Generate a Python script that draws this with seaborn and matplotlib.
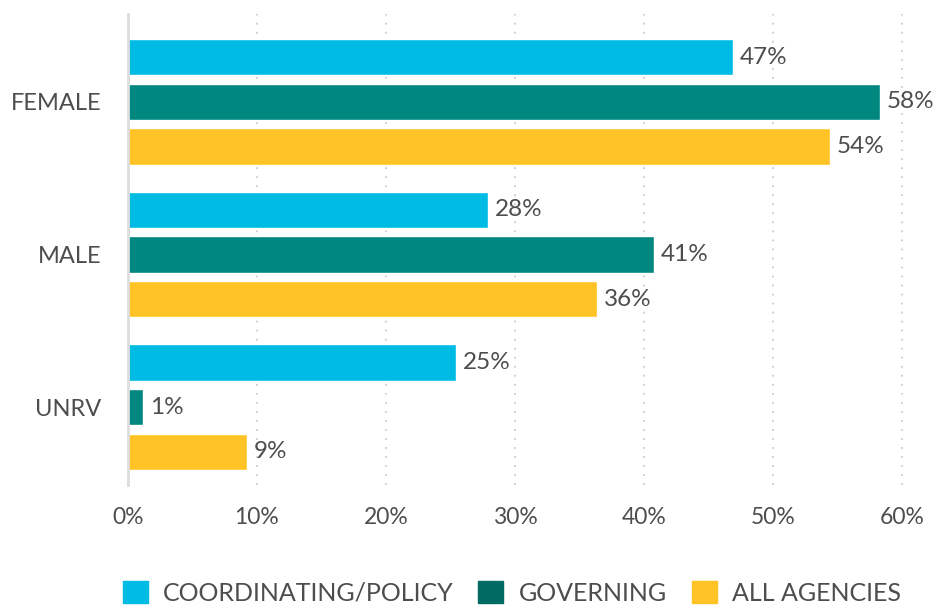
import matplotlib.pyplot as plt
import matplotlib.patches as mpatches
import seaborn as sns
import pandas as pd

# --- data ---
groups = ["FEMALE", "MALE", "UNRV"]
series = ["COORDINATING/POLICY", "GOVERNING", "ALL AGENCIES"]
coordinating = [46.9, 27.9, 25.4]
governing = [58.3, 40.8, 1.2]
all_agencies = [54.4, 36.4, 9.2]
x_ticks = [0, 10, 20, 30, 40, 50, 60]

bar_colors = ["#00BCE4", "#00877F", "#FFC325"]
legend_colors = ["#00BCE4", "#006B63", "#FFC325"]
text_color = "#4d4d4d"

rows = []
for name, vals in zip(series, [coordinating, governing, all_agencies]):
    for g, v in zip(groups, vals):
        rows.append({"group": g, "series": name, "value": v})
df = pd.DataFrame(rows)

sns.set_style("white")
plt.rcParams["font.family"] = ["Lato", "DejaVu Sans"]

fig = plt.figure(figsize=(9.37, 6.06), dpi=100)
ax = fig.add_axes([0.1366, 0.2, 0.8534, 0.777])

sns.barplot(data=df, y="group", x="value", hue="series", order=groups,
            hue_order=series, palette=bar_colors, orient="h",
            width=0.876, gap=0.19, saturation=1, legend=False, ax=ax)

# value labels
for cont in ax.containers:
    ax.bar_label(cont, labels=[f"{round(b.get_width())}%" for b in cont],
                 padding=5, fontsize=17.5, color=text_color)

ax.set_xlim(0, 62)
ax.set_ylim(2.51, -0.577)
ax.set_xticks(x_ticks)
ax.set_xticklabels([f"{t}%" for t in x_ticks])
ax.set_xlabel("")
ax.set_ylabel("")
ax.tick_params(axis="x", length=0, pad=16, labelsize=16.5, labelcolor=text_color)
ax.tick_params(axis="y", length=0, pad=19, labelsize=17, labelcolor=text_color)

ax.grid(axis="x", linestyle=(0, (1, 4)), color="#cccccc", linewidth=1.3)
ax.set_axisbelow(True)
for s in ["top", "right", "bottom"]:
    ax.spines[s].set_visible(False)
ax.spines["left"].set_color("#dddddd")
ax.spines["left"].set_linewidth(2)

handles = [mpatches.Patch(color=c, label=l) for c, l in zip(legend_colors, series)]
fig.legend(handles=handles, loc="lower center", bbox_to_anchor=(0.546, -0.035),
           ncol=3, frameon=False, fontsize=18, handlelength=1.0, handleheight=1.0,
           handletextpad=0.6, columnspacing=1.0, labelcolor=text_color)

plt.savefig("out.png", dpi=100)
plt.close()
